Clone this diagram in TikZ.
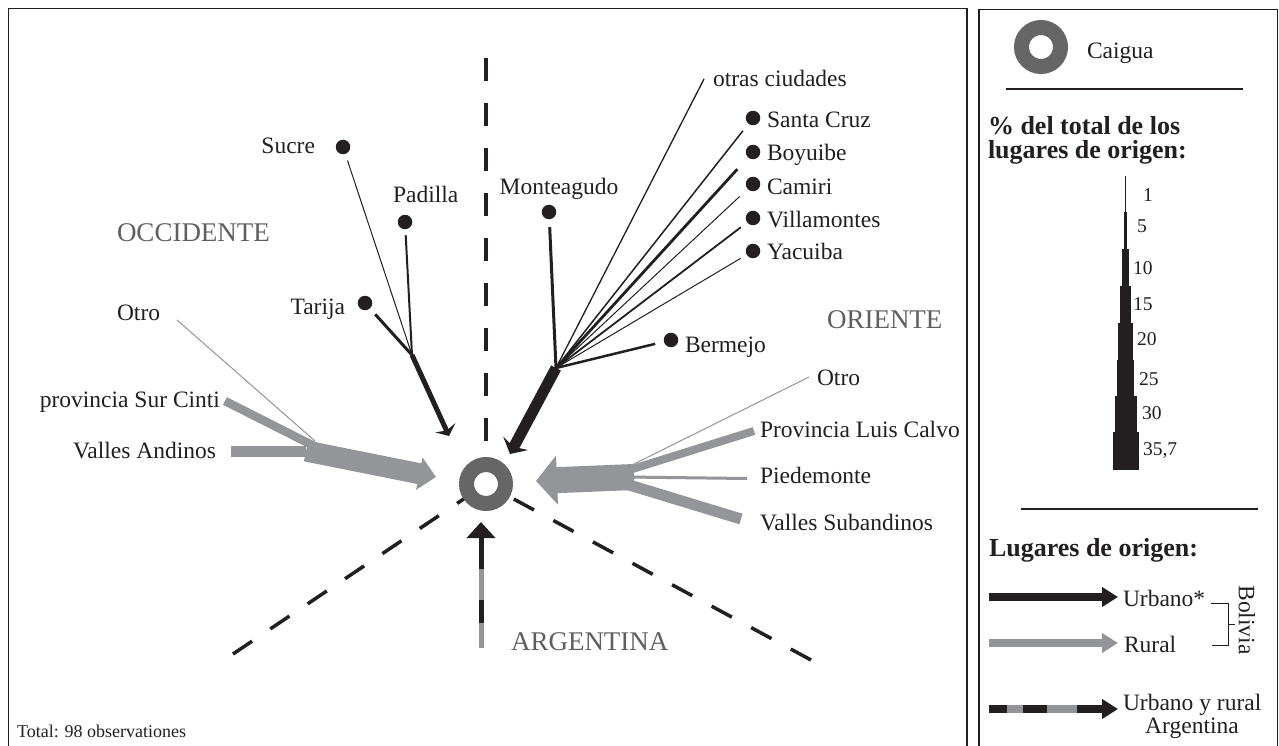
\documentclass[tikz,border=0pt]{standalone}
\usepackage{fontspec}
\setmainfont{Liberation Serif}
\usetikzlibrary{arrows.meta}
\definecolor{ink}{RGB}{35,31,32}
\definecolor{band}{RGB}{148,149,153}
\definecolor{ringc}{RGB}{102,102,102}
\definecolor{regc}{RGB}{95,95,95}
\begin{document}
\begin{tikzpicture}[x=1pt,y=-1pt,
 lbl/.style={font=\fontsize{23.5}{26}\selectfont, text=ink, inner sep=0pt, outer sep=0pt},
 reg/.style={font=\fontsize{27}{30}\selectfont, text=regc, inner sep=0pt, outer sep=0pt},
 small/.style={font=\fontsize{18}{20}\selectfont, text=ink, inner sep=0pt, outer sep=0pt},
 num/.style={font=\fontsize{19.5}{22}\selectfont, text=ink, inner sep=0pt, outer sep=0pt, anchor=base west},
 hd/.style={font=\bfseries\fontsize{26}{24}\selectfont, text=ink, inner sep=0pt, outer sep=0pt, anchor=base west},
 city/.style={circle, fill=ink, minimum size=14.5pt, inner sep=0pt, outer sep=0pt},
 ringnode/.style={circle, draw=ringc, line width=15pt, fill=white, minimum size=39pt, inner sep=0pt, outer sep=0pt},
 axisline/.style={ink, line width=3.5pt, dash pattern=on 23pt off 22pt},
 frameline/.style={ink, line width=1.3pt},
 rule/.style={ink, line width=2pt},
]
\useasboundingbox (0,0) rectangle (1279,746);
\fill[white] (0,0) rectangle (1279,746);

% frames
\draw[frameline] (8.5,746) -- (8.5,8.5) -- (967,8.5) -- (967,746);
\draw[frameline] (979,746) -- (979,9.5) -- (1277.5,9.5) -- (1277.5,746);

% axes
\coordinate (C) at (486,484);
\coordinate (topEnd) at (486,58);
\coordinate (topStop) at (486,442);
\coordinate (llEnd) at (233,654);
\coordinate (lrEnd) at (811,660);
\draw[axisline] (topEnd) -- (topStop);
\draw[axisline] (llEnd) -- (C);
\draw[axisline] (lrEnd) -- (C);

% ring
\node[ringnode] (caigua) at (C) {};

% west urban tree
\node[city] (sucre) at (343,147) {};
\node[city] (padilla) at (405,222) {};
\node[city] (tarija) at (365,303) {};
\coordinate (J1) at (412,355);
\coordinate (wTip) at (449,436);
\draw[ink, line width=1pt, shorten <=7pt] (sucre) -- (J1);
\draw[ink, line width=2pt, shorten <=6pt] (padilla) -- (J1);
\draw[ink, line width=3pt, shorten <=8pt] (tarija) -- (J1);
\draw[ink, line width=5pt, -{Stealth[length=9pt,width=22pt,inset=3pt]}] (J1) -- (wTip);

% east urban tree
\node[city] (monte) at (549,212) {};
\node[city] (scruz) at (753,118) {};
\node[city] (boyu) at (753,152) {};
\node[city] (camiri) at (753,184) {};
\node[city] (villa) at (753,218) {};
\node[city] (yacu) at (753,251) {};
\node[city] (berm) at (671,340) {};
\coordinate (J2) at (556,368);
\coordinate (otrasEnd) at (704,79);
\coordinate (eTip) at (510,454);
\draw[ink, line width=3pt, shorten <=8pt] (monte) -- (J2);
\draw[ink, line width=1.3pt] (J2) -- (otrasEnd);
\draw[ink, line width=1.5pt, shorten >=9pt] (J2) -- (scruz);
\draw[ink, line width=2.8pt, shorten >=16pt] (J2) -- (boyu);
\draw[ink, line width=1pt, shorten >=11pt] (J2) -- (camiri);
\draw[ink, line width=1.8pt, shorten >=8pt] (J2) -- (villa);
\draw[ink, line width=1pt, shorten >=7pt] (J2) -- (yacu);
\draw[ink, line width=2.5pt, shorten >=9pt] (J2) -- (berm);
\draw[ink, line width=11pt, -{Stealth[length=12pt,width=28pt,inset=4pt]}] (J2) -- (eTip);

% west rural
\coordinate (J3) at (306,451);
\coordinate (vaStart) at (231,451);
\coordinate (scStart) at (225,401);
\coordinate (scEnd) at (316,447);
\coordinate (otroWStart) at (177,320);
\coordinate (otroWEnd) at (315,441);
\coordinate (wrTip) at (436,477);
\draw[band, line width=11pt] (vaStart) -- (J3);
\draw[band, line width=8.5pt] (scStart) -- (scEnd);
\draw[band, line width=1pt] (otroWStart) -- (otroWEnd);
\draw[band, line width=21pt, -{Triangle[length=17pt,width=32pt]}] (J3) -- (wrTip);

% east rural
\coordinate (J4) at (634,477);
\coordinate (erTip) at (536,481);
\coordinate (lcS) at (626,471);
\coordinate (pdS) at (626,477);
\coordinate (vsS) at (626,484);
\coordinate (oeS) at (628,467);
\coordinate (lcEnd) at (754,431);
\coordinate (pdEnd) at (747,478.5);
\coordinate (vsEnd) at (741,519);
\coordinate (otroEEnd) at (809,377);
\draw[band, line width=8pt] (lcS) -- (lcEnd);
\draw[band, line width=3pt] (pdS) -- (pdEnd);
\draw[band, line width=11pt] (vsS) -- (vsEnd);
\draw[band, line width=1pt] (oeS) -- (otroEEnd);
\draw[band, line width=26pt, -{Triangle[length=21pt,width=48pt]}] (J4) -- (erTip);

% Argentina arrow
\coordinate (aBot) at (481,648);
\coordinate (a1) at (481,623);
\coordinate (a2) at (481,600);
\coordinate (a3) at (481,569);
\coordinate (aTip) at (481,522);
\draw[band, line width=5pt] (aBot) -- (a1);
\draw[ink, line width=5pt] (a1) -- (a2);
\draw[band, line width=5pt] (a2) -- (a3);
\draw[ink, line width=5pt, -{Triangle[length=16pt,width=28pt]}] (a3) -- (aTip);

% labels
\node[lbl, anchor=base east] (tSucre) at (315,154) {Sucre};
\node[lbl, anchor=base west] (tPadilla) at (393,203) {Padilla};
\node[lbl, anchor=base east] (tTarija) at (345,314) {Tarija};
\node[lbl, anchor=base] (tMonte) at (559,195) {Monteagudo};
\node[lbl, anchor=base west] (tOtras) at (713,87) {otras ciudades};
\node[lbl, anchor=base west] (tScruz) at (767,128) {Santa Cruz};
\node[lbl, anchor=base west] (tBoyu) at (767,161) {Boyuibe};
\node[lbl, anchor=base west] (tCamiri) at (767,194) {Camiri};
\node[lbl, anchor=base west] (tVilla) at (767,227) {Villamontes};
\node[lbl, anchor=base west] (tYacu) at (767,259) {Yacuiba};
\node[lbl, anchor=base west] (tBerm) at (685,352) {Bermejo};
\node[reg, anchor=base west] (tOcc) at (117,241) {OCCIDENTE};
\node[reg, anchor=base west] (tOri) at (827,328) {ORIENTE};
\node[reg, anchor=base west] (tArg) at (511,650) {ARGENTINA};
\node[lbl, anchor=base west] (tOtroW) at (117,320) {Otro};
\node[lbl, anchor=base east] (tSur) at (220,407) {provincia Sur Cinti};
\node[lbl, anchor=base east] (tVA) at (216,458) {Valles Andinos};
\node[lbl, anchor=base west] (tOtroE) at (817,385) {Otro};
\node[lbl, anchor=base west] (tLC) at (760,437) {Provincia Luis Calvo};
\node[lbl, anchor=base west] (tPd) at (760,483) {Piedemonte};
\node[lbl, anchor=base west] (tVS) at (760,530) {Valles Subandinos};
\node[small, anchor=base west] (tTotal) at (17,737) {Total: 98 observationes};

% ---------- legend ----------
\node[ringnode] (legRing) at (1041,47) {};
\node[lbl, anchor=base west] (tCaigua) at (1087,59) {Caigua};
\draw[rule] (1006,89) -- (1243,89);
\node[hd] (hd1) at (988,135) {\% del total de los};
\node[hd] (hd2) at (988,159) {lugares de origen:};

% scale tower
\foreach \ya/\yb/\w in {176/212/1.2, 212/249/3, 249/286/7.5, 286/323/11, 323/360/14.5, 360/396/17.5, 396/432/22, 432/470/26}
  \fill[ink] ({1125.5-\w/2},\ya) rectangle ({1125.5+\w/2},\yb);
\node[num] (n1) at (1143,202) {1};
\node[num] (n5) at (1137,233) {5};
\node[num] (n10) at (1133,274) {10};
\node[num] (n15) at (1133,310) {15};
\node[num] (n20) at (1137,345) {20};
\node[num] (n25) at (1139,385) {25};
\node[num] (n30) at (1142,419) {30};
\node[num] (n357) at (1143,455) {35,7};

\draw[rule] (1021,509) -- (1258,509);
\node[hd] (hd3) at (989,556) {Lugares de origen:};

% legend arrows
\coordinate (uS) at (989,597);
\coordinate (uE) at (1118,597);
\coordinate (rS) at (989,643);
\coordinate (rE) at (1118,643);
\draw[ink, line width=7.5pt, -{Triangle[length=16pt,width=19pt]}] (uS) -- (uE);
\draw[band, line width=7.5pt, -{Triangle[length=16pt,width=19pt]}] (rS) -- (rE);
\coordinate (d0) at (989,709);
\coordinate (d1) at (1007,709);
\coordinate (d2) at (1023,709);
\coordinate (d3) at (1047,709);
\coordinate (d4) at (1077,709);
\coordinate (d5) at (1118,709);
\draw[ink, line width=7.5pt] (d0) -- (d1);
\draw[band, line width=7.5pt] (d1) -- (d2);
\draw[ink, line width=7.5pt] (d2) -- (d3);
\draw[band, line width=7.5pt] (d3) -- (d4);
\draw[ink, line width=7.5pt, -{Triangle[length=16pt,width=19pt]}] (d4) -- (d5);

\node[lbl, anchor=base west] (tUrb) at (1123,606) {Urbano*};
\node[lbl, anchor=base west] (tRur) at (1124,652) {Rural};
\node[lbl, anchor=base west] (tUyR) at (1123,710) {Urbano y rural};
\node[lbl, anchor=base] (tArgL) at (1192,733) {Argentina};

% bracket
\coordinate (b1) at (1211,603);
\coordinate (b2) at (1228,603);
\coordinate (b3) at (1228,645);
\coordinate (b4) at (1212,645);
\coordinate (bm) at (1228,624);
\coordinate (bt) at (1235,624);
\draw[ink, line width=0.8pt] (b1) -- (b2) -- (b3) -- (b4);
\draw[ink, line width=0.8pt] (bm) -- (bt);
\node[lbl, rotate=-90] (tBol) at (1247,620) {Bolivia};
\end{tikzpicture}
\end{document}
